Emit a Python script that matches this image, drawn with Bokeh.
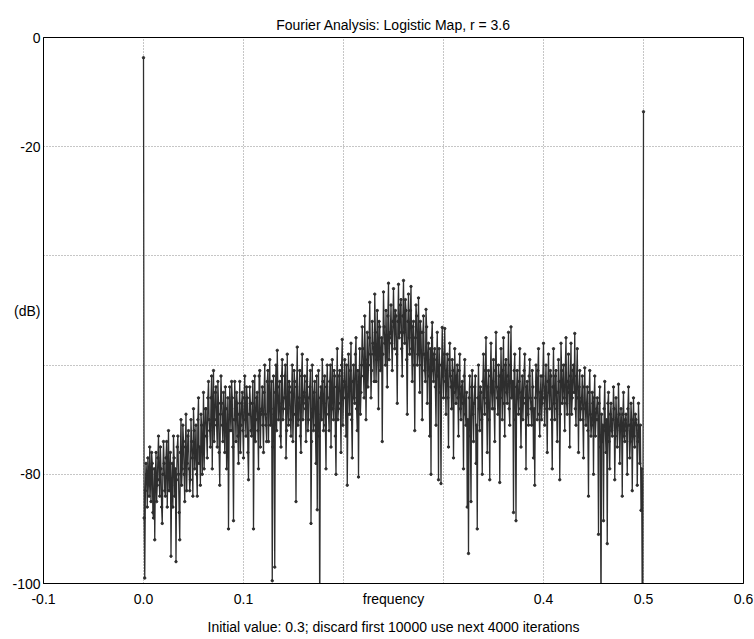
from bokeh.plotting import figure
from bokeh.models import FixedTicker, Range1d
from bokeh.embed import file_html
from bokeh.resources import INLINE

# ---- data ----
freq_step = 0.000625  # spacing of the plotted frequency bins

# values on the even bins (f = 0, 0.00125, 0.0025, ...)
db_000_006 = [-3.7, -99, -78, -86, -80, -75, -85, -78, -88, -92,
              -76, -82, -73, -84, -79, -89, -74, -83, -77, -86,
              -72, -81, -95, -78, -73, -84, -96, -75, -80, -92,
              -70, -79, -74, -85, -69, -78, -72, -83, -70, -77,
              -68, -79, -71, -84, -66, -75, -69, -80, -65, -73]
db_006_012 = [-68, -77, -63, -72, -66, -79, -61, -70, -64, -75,
              -67, -82, -62, -71, -65, -76, -68, -73, -90, -64,
              -72, -66, -88.5, -63, -74, -67, -78, -63, -71, -65,
              -77, -62, -73, -66, -81, -64, -72, -67, -90, -62,
              -70, -65, -79, -61, -69, -64, -76, -60, -71, -63]
db_012_019 = [-74, -59, -68, -99.5, -62, -97, -60, -57.3, -70, -63,
              -75, -59, -68, -62, -77, -58, -71, -64, -73, -60,
              -69, -63, -85, -56.7, -70, -61, -76, -58, -67, -62,
              -74, -59, -70, -64, -89, -60, -72, -63, -78, -86.5,
              -61, -108, -64, -59, -72, -62, -79, -60, -69, -63]
db_019_025 = [-75, -59, -70, -62, -80, -57, -68, -61, -76, -55.3,
              -66, -59, -73, -82, -58, -69, -56, -77, -60, -67,
              -55, -72, -80.5, -57, -65, -53, -62, -51, -70, -54,
              -60, -48.5, -66, -52, -58, -47, -63, -50, -68, -53,
              -59, -74, -46.6, -56, -50, -64, -45, -55, -49, -61]
db_025_031 = [-46, -57, -51, -67, -45.2, -54, -48, -62, -44.5, -56,
              -50, -69, -47, -58, -45.6, -63, -52, -72, -49, -60,
              -47.7, -65, -54, -70, -51, -61, -49.8, -67, -56, -73,
              -80, -52.2, -63, -57, -71, -54, -81, -60, -81.7, -53.1,
              -66, -53.3, -69, -58, -75, -56, -64, -59, -77, -57]
db_031_037 = [-67, -60, -73, -58, -70, -63, -79, -59, -71, -86,
              -94.5, -62, -85, -61, -74, -64, -78, -90, -60, -72,
              -65, -80, -58, -69, -55, -76, -61, -81, -56, -68,
              -59, -74, -54, -66, -60, -81.5, -57, -70, -55, -73,
              -59, -67, -54, -71, -53, -64, -87, -58, -88.5, -61]
db_037_044 = [-69, -57, -75, -62, -66, -58, -79, -63, -71, -59,
              -68, -61, -77, -82, -60, -70, -57, -73, -62, -67,
              -56, -71, -60, -76, -58, -68, -62, -79, -57, -70,
              -61, -74, -59, -81, -56, -67, -60, -72, -55, -69,
              -58, -75, -56, -66, -60, -54.2, -71, -57, -76, -61]
db_044_050 = [-68, -62, -77, -60.5, -71, -64, -84, -61, -73, -65,
              -80, -62, -70, -66, -91, -64, -108, -74, -88.5, -63,
              -76, -92.7, -65, -79, -67, -73, -64, -81, -66, -75,
              -63.5, -78, -68, -84, -65, -74, -69, -80, -64, -77,
              -67, -83, -66, -75, -70, -82, -67, -78, -86.6, -105,
              -13.6]

# values on the odd bins (f = 0.000625, 0.001875, ...)
db_odd_000_006 = [-88, -83, -80, -77, -84, -81, -76, -87, -79, -80,
                  -85, -77, -81, -75, -86, -80, -78, -84, -74, -79,
                  -83, -76, -82, -86, -77, -79, -81, -73, -87, -76,
                  -82, -71, -80, -75, -83, -73, -79, -81, -74, -84,
                  -72, -76, -80, -70, -78, -82, -71, -75, -79, -68]
db_odd_006_012 = [-73, -66, -70, -75, -62, -68, -74, -65, -71, -63,
                  -76, -69, -67, -74, -70, -64, -79, -66, -72, -69,
                  -63, -75, -70, -68, -65, -73, -69, -76, -67, -72,
                  -66, -70, -64, -76, -69, -67, -73, -63, -71, -74,
                  -66, -72, -62, -75, -68, -71, -65, -69, -74, -61]
db_odd_012_019 = [-66, -71, -63, -75, -69, -65, -72, -64, -67, -73,
                  -62, -70, -66, -60, -72, -68, -63, -70, -65, -74,
                  -61, -69, -64, -71, -66, -73, -62, -70, -65, -68,
                  -63, -72, -66, -61, -74, -68, -65, -71, -62, -69,
                  -73, -66, -70, -63, -67, -71, -64, -66, -72, -60]
db_odd_019_025 = [-65, -68, -61, -73, -64, -70, -62, -67, -60, -71,
                  -63, -66, -60, -69, -64, -61, -70, -63, -66, -58,
                  -68, -61, -63, -69, -60, -57, -66, -59, -61, -64,
                  -55, -58, -61, -56, -63, -54, -59, -57, -52, -61,
                  -55, -58, -53, -60, -57, -51, -59, -54, -56, -52]
db_odd_025_031 = [-53, -50, -58, -52, -55, -49, -57, -51, -54, -48,
                  -59, -52, -55, -50, -57, -53, -60, -55, -51, -58,
                  -56, -52, -60, -54, -58, -63, -53, -59, -62, -57,
                  -55, -61, -58, -64, -59, -62, -57, -65, -60, -62,
                  -58, -63, -61, -66, -59, -62, -68, -61, -65, -63]
db_odd_031_037 = [-62, -66, -61, -68, -64, -67, -62, -69, -65, -70,
                  -66, -73, -64, -69, -67, -62, -71, -66, -68, -64,
                  -70, -63, -66, -61, -67, -64, -70, -62, -65, -63,
                  -68, -61, -64, -69, -62, -66, -63, -61, -67, -60,
                  -65, -62, -68, -60, -66, -63, -61, -70, -64, -66]
db_odd_037_044 = [-63, -68, -65, -70, -61, -67, -64, -69, -62, -66,
                  -71, -64, -68, -66, -63, -61, -69, -65, -70, -62,
                  -66, -64, -68, -63, -65, -61, -70, -64, -67, -62,
                  -68, -65, -63, -69, -61, -64, -66, -60, -67, -63,
                  -65, -62, -69, -61, -65, -68, -62, -66, -64, -70]
db_odd_044_050 = [-66, -70, -64, -68, -67, -72, -65, -69, -71, -67,
                  -66, -73, -68, -70, -67, -75, -69, -71, -68, -72,
                  -70, -67, -74, -69, -72, -70, -68, -73, -70, -71,
                  -69, -72, -71, -69, -73, -70, -72, -68, -71, -74,
                  -70, -72, -73, -69, -71, -74, -72, -71, -79, -102]

x_grid_ticks = [-0.1, 0.0, 0.1, 0.2, 0.3, 0.4, 0.5, 0.6]
x_tick_labels = {-0.1: "-0.1", 0.0: "0.0", 0.1: "0.1", 0.25: "frequency",
                 0.4: "0.4", 0.5: "0.5", 0.6: "0.6"}
y_grid_ticks = [-100, -80, -60, -40, -20, 0]
y_tick_labels = {-100: "-100", -80: "-80", -50: "(dB)", -20: "-20", 0: "0"}

title_text = "Fourier Analysis: Logistic Map, r = 3.6"
x_axis_text = "Initial value: 0.3; discard first 10000 use next 4000 iterations"

even = (db_000_006 + db_006_012 + db_012_019 + db_019_025 +
        db_025_031 + db_031_037 + db_037_044 + db_044_050)
odd = (db_odd_000_006 + db_odd_006_012 + db_odd_012_019 + db_odd_019_025 +
       db_odd_025_031 + db_odd_031_037 + db_odd_037_044 + db_odd_044_050)
db = []
for k in range(len(odd)):
    db.append(even[k])
    db.append(odd[k])
db.append(even[-1])
freq = [i * freq_step for i in range(len(db))]

FONT = "Liberation Sans, Arial, Helvetica, sans-serif"
DARK = "#2e2e2e"

p = figure(width=754, height=639, output_backend="svg", toolbar_location=None,
           x_range=Range1d(-0.1, 0.6), y_range=Range1d(-100, 0),
           min_border_left=43, min_border_right=11,
           min_border_top=37, min_border_bottom=56)
p.background_fill_color = "white"
p.border_fill_color = "white"
p.outline_line_color = "black"
p.outline_line_width = 1
p.outline_line_alpha = 1

p.title.text = title_text
p.title.align = "center"
p.title.text_font = FONT
p.title.text_font_size = "14px"
p.title.text_font_style = "normal"
p.title.text_color = "black"

p.line(freq, db, line_color=DARK, line_width=1.3)
p.scatter(freq, db, size=2.4, color=DARK)

# grid
p.xgrid.ticker = FixedTicker(ticks=x_grid_ticks)
p.ygrid.ticker = FixedTicker(ticks=y_grid_ticks)
for g in (p.xgrid, p.ygrid):
    g.grid_line_color = "#8c8c8c"
    g.grid_line_dash = "1 2"
    g.grid_line_width = 1

# axes
p.xaxis.ticker = FixedTicker(ticks=sorted(x_tick_labels.keys()))
p.xaxis.major_label_overrides = x_tick_labels
p.yaxis.ticker = FixedTicker(ticks=sorted(y_tick_labels.keys()))
p.yaxis.major_label_overrides = y_tick_labels
p.xaxis.axis_label = x_axis_text
for ax in (p.xaxis, p.yaxis):
    ax.major_tick_in = 0
    ax.major_tick_out = 0
    ax.minor_tick_in = 0
    ax.minor_tick_out = 0
    ax.axis_line_color = "black"
    ax.major_label_text_font = FONT
    ax.major_label_text_font_size = "14px"
    ax.major_label_text_color = "black"
    ax.axis_label_text_font = FONT
    ax.axis_label_text_font_size = "14px"
    ax.axis_label_text_font_style = "normal"
    ax.axis_label_text_color = "black"
p.xaxis.major_label_standoff = 7
p.xaxis.axis_label_standoff = 9
p.yaxis.major_label_standoff = 3

open("out.html", "w").write(file_html(p, INLINE))
